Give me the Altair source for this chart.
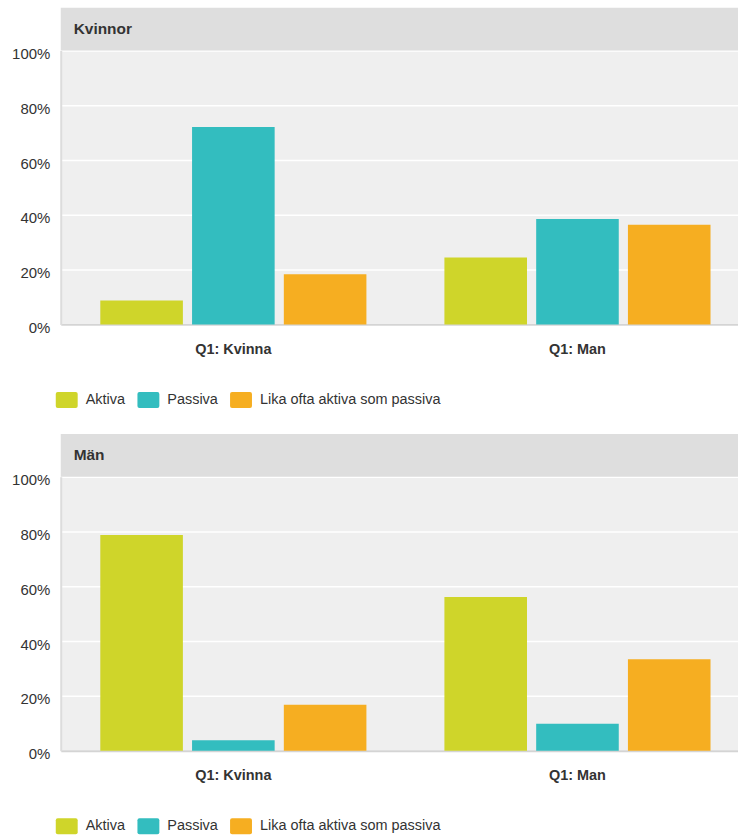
import altair as alt
import pandas as pd

panels = ["Kvinnor", "Män"]
categories = ["Q1: Kvinna", "Q1: Man"]
series = ["Aktiva", "Passiva", "Lika ofta aktiva som passiva"]
colors = ["#CFD52A", "#33BDBF", "#F6AE21"]

# values in percent, per panel, per series, ordered as categories
kvinnor_aktiva = [8.7, 24.4]
kvinnor_passiva = [72.1, 38.5]
kvinnor_lika = [18.3, 36.4]
man_aktiva = [78.7, 56.1]
man_passiva = [3.8, 9.8]
man_lika = [16.8, 33.4]

y_ticks = [0, 20, 40, 60, 80, 100]

W = 680
H = 275
FONT = "Liberation Sans"
TEXT = "#333333"

legend_symbol = ("M-1.125,-1H1.125Q1.375,-1 1.375,-0.75V0.75Q1.375,1 1.125,1"
                 "H-1.125Q-1.375,1 -1.375,0.75V-0.75Q-1.375,-1 -1.125,-1Z")


def make_df(aktiva, passiva, lika):
    rows = []
    for s, vals in zip(series, [aktiva, passiva, lika]):
        for c, v in zip(categories, vals):
            rows.append({"kategori": c, "serie": s, "andel": v})
    return pd.DataFrame(rows)


def panel(name, df):
    head_df = pd.DataFrame({"rubrik": [name]})
    rect = alt.Chart(head_df).mark_rect(color="#DEDEDE").encode(
        x=alt.value(0), x2=alt.value(W), y=alt.value(-43), y2=alt.value(0)
    )
    text = alt.Chart(head_df).mark_text(
        align="left", baseline="middle", fontWeight="bold", fontSize=15.5,
        color=TEXT, font=FONT
    ).encode(x=alt.value(13), y=alt.value(-22), text="rubrik:N")

    bars = alt.Chart(df).mark_bar().encode(
        x=alt.X(
            "kategori:N", sort=categories,
            scale=alt.Scale(paddingInner=0.2267, paddingOuter=0.0974, align=0.59),
            axis=alt.Axis(
                title=None, labelAngle=0, ticks=False, labelFontWeight="bold",
                labelFontSize=14.5, labelColor=TEXT, labelFont=FONT, labelPadding=18,
                domainColor="#D4D4D4", domainWidth=2, grid=False
            ),
        ),
        xOffset=alt.XOffset("serie:N", sort=series,
                            scale=alt.Scale(paddingInner=0.1, paddingOuter=0)),
        y=alt.Y(
            "andel:Q", scale=alt.Scale(domain=[0, 100], nice=False),
            axis=alt.Axis(
                title=None, values=y_ticks, labelExpr="datum.value + '%'",
                ticks=False, labelPadding=11, labelFontSize=15, labelColor=TEXT,
                labelFont=FONT, gridColor="#FFFFFF", gridWidth=1.5,
                domainColor="#DCDCDC", domainWidth=2, labelOffset=3
            ),
        ),
        color=alt.Color(
            "serie:N", sort=series,
            scale=alt.Scale(domain=series, range=colors),
            legend=alt.Legend(
                title=None, orient="none", direction="horizontal",
                legendX=-2, legendY=H + 68, symbolType=legend_symbol,
                symbolSize=256, symbolStrokeWidth=0, symbolOpacity=1,
                labelFontSize=14.5, labelColor=TEXT, labelFont=FONT,
                labelLimit=0, columnPadding=12, labelOffset=11
            ),
        ),
    )
    return alt.layer(rect, text, bars).properties(width=W, height=H)


top = panel(panels[0], make_df(kvinnor_aktiva, kvinnor_passiva, kvinnor_lika))
bottom = panel(panels[1], make_df(man_aktiva, man_passiva, man_lika))

chart = alt.vconcat(top, bottom, spacing=26).resolve_scale(
    color="independent"
).properties(
    padding={"left": 11, "top": 6, "right": 0, "bottom": 0},
    background="#FFFFFF",
).configure_view(
    fill="#EFEFEF", strokeWidth=0
)

chart.save("out.html", embed_options={"renderer": "svg", "actions": False})
